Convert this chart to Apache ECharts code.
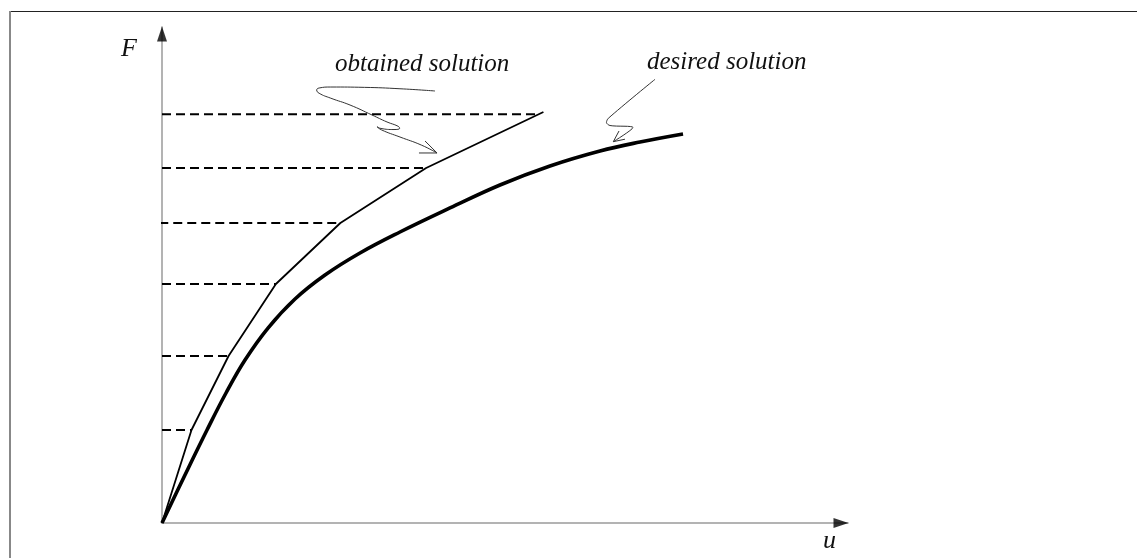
<!DOCTYPE html>
<html>
<head>
<meta charset="utf-8">
<style>
  html, body { margin: 0; padding: 0; background: #fff; }
  #chart { width: 1137px; height: 558px; }
</style>
<script src="https://cdn.jsdelivr.net/npm/echarts@6/dist/echarts.min.js"></script>
</head>
<body>
<div id="chart"></div>
<script>
// Load-displacement sketch: incremental (piecewise linear) solution vs. the exact curve.

// Axis extents (u horizontal, F vertical, arbitrary units)
const uMax = 10;
const fMax = 10;

// Obtained solution: piecewise linear path through the load steps
const uObtained = [0, 0.43, 0.97, 1.66, 2.60, 3.85, 5.56];
const fObtained = [0, 1.875, 3.367, 4.819, 6.048, 7.157, 8.286];

// Load levels (dashed) and where each one meets the obtained path
const loadLevels = [1.875, 3.367, 4.819, 6.048, 7.157, 8.24];
const levelStarts = [0, 0, 0, -0.04, 0, 0];
const levelEnds = [0.43, 0.97, 1.66, 2.60, 3.85, 5.48];

// Desired solution: smooth nonlinear response
const uDesired = [0, 0.335, 0.656, 0.933, 1.210, 1.545, 1.939, 2.376, 2.886, 3.469, 4.198, 4.927, 5.656, 6.385, 6.968, 7.595];
const fDesired = [0, 0.968, 1.875, 2.621, 3.286, 3.931, 4.516, 5.000, 5.444, 5.867, 6.351, 6.815, 7.198, 7.500, 7.681, 7.843];

// Hand-drawn leader for "obtained solution"
const uLeaderA = [3.980, 3.469, 2.950, 2.460, 2.290, 2.255, 2.290, 2.460, 2.741, 3.061, 3.280, 3.440, 3.465, 3.382, 3.192, 3.134, 3.200, 3.469, 3.780, 4.009];
const fLeaderA = [8.710, 8.755, 8.783, 8.790, 8.770, 8.730, 8.665, 8.565, 8.427, 8.226, 8.085, 8.000, 7.958, 7.933, 7.954, 7.990, 7.925, 7.782, 7.620, 7.460];
const uHeadA = [3.834, 4.009, 3.746];
const fHeadA = [7.702, 7.460, 7.460];

// Hand-drawn leader for "desired solution"
const uLeaderB = [7.187, 6.506, 6.479, 6.530, 6.866, 6.579];
const fLeaderB = [8.945, 8.159, 8.075, 8.014, 7.974, 7.688];
const uHeadB = [6.749, 6.579, 6.662];
const fHeadB = [7.738, 7.688, 7.903];

// Text
const labelObtained = 'obtained solution';
const labelDesired = 'desired solution';
const axisNameX = 'u';
const axisNameY = 'F';

function pairs(us, fs) {
  return us.map((u, i) => [u, fs[i]]);
}

const dashedSeries = loadLevels.map((lv, i) => ({
  type: 'line',
  data: [[levelStarts[i], lv], [levelEnds[i], lv]],
  showSymbol: false,
  silent: true,
  clip: false,
  z: 3,
  lineStyle: { color: '#000', width: 2, type: [9, 5] }
}));

const serif = '"Liberation Serif", "DejaVu Serif", serif';

const chart = echarts.init(document.getElementById('chart'), null, { renderer: 'canvas' });

chart.setOption({
  animation: false,
  backgroundColor: '#fff',
  grid: { left: 162, right: 289, top: 27, bottom: 35, containLabel: false },
  xAxis: {
    type: 'value', min: 0, max: uMax,
    axisLine: { show: true, onZero: false, lineStyle: { color: '#9a9a9a', width: 1.5 } },
    axisTick: { show: false }, axisLabel: { show: false }, splitLine: { show: false }
  },
  yAxis: {
    type: 'value', min: 0, max: fMax,
    axisLine: { show: true, onZero: false, lineStyle: { color: '#9a9a9a', width: 1.5 } },
    axisTick: { show: false }, axisLabel: { show: false }, splitLine: { show: false }
  },
  graphic: [
    { type: 'line', shape: { x1: 9, y1: 11.5, x2: 1137, y2: 11.5 }, style: { stroke: '#222', lineWidth: 1 }, silent: true },
    { type: 'line', shape: { x1: 10, y1: 11, x2: 10, y2: 558 }, style: { stroke: '#888', lineWidth: 2 }, silent: true },
    { type: 'text', left: 335, top: 52, style: { text: labelObtained, font: 'italic 25px ' + serif, fill: '#111' }, silent: true },
    { type: 'text', left: 647, top: 50, style: { text: labelDesired, font: 'italic 25px ' + serif, fill: '#111' }, silent: true },
    { type: 'text', left: 121, top: 36, style: { text: axisNameY, font: 'italic 26px ' + serif, fill: '#111' }, silent: true },
    { type: 'text', left: 823, top: 528, style: { text: axisNameX, font: 'italic 26px ' + serif, fill: '#111' }, silent: true }
  ],
  series: [
    ...dashedSeries,
    {
      type: 'line', data: pairs(uDesired, fDesired), smooth: 0.4,
      showSymbol: false, silent: true, z: 4,
      lineStyle: { color: '#000', width: 3.6 }
    },
    {
      type: 'line', data: pairs(uObtained, fObtained), smooth: false,
      showSymbol: false, silent: true, z: 5,
      lineStyle: { color: '#000', width: 1.8, join: 'round' }
    },
    {
      type: 'line', data: pairs(uLeaderA, fLeaderA), smooth: 0.5,
      showSymbol: false, silent: true, z: 5,
      lineStyle: { color: '#333', width: 1 }
    },
    {
      type: 'line', data: pairs(uHeadA, fHeadA), smooth: false,
      showSymbol: false, silent: true, z: 5,
      lineStyle: { color: '#333', width: 1 }
    },
    {
      type: 'line', data: pairs(uLeaderB, fLeaderB), smooth: 0.3,
      showSymbol: false, silent: true, z: 5,
      lineStyle: { color: '#333', width: 1 }
    },
    {
      type: 'line', data: pairs(uHeadB, fHeadB), smooth: false,
      showSymbol: false, silent: true, z: 5,
      lineStyle: { color: '#333', width: 1 }
    },
    {
      // arrowheads at the ends of both axes
      type: 'scatter', clip: false, silent: true, z: 6,
      symbol: 'triangle',
      data: [
        { value: [uMax, 0], symbolRotate: -90, symbolOffset: [-7, 0] },
        { value: [0, fMax], symbolRotate: 0, symbolOffset: [0, 7] }
      ],
      symbolSize: [10, 15],
      itemStyle: { color: '#000' }
    }
  ]
});
</script>
</body>
</html>
